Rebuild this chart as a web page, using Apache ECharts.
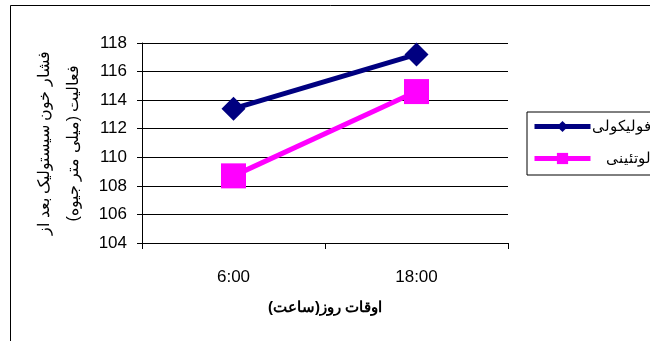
<!DOCTYPE html>
<html>
<head>
<meta charset="utf-8">
<script src="https://cdn.jsdelivr.net/npm/echarts@6/dist/echarts.min.js"></script>
<style>
  html, body { margin: 0; padding: 0; background: #fff; }
  #chart { width: 650px; height: 341px; }
</style>
</head>
<body>
<div id="chart"></div>
<script>
// Time-of-day categories and systolic pressure per menstrual phase
const categories = ['6:00', '18:00'];
const follicular = [113.4, 117.2];
const luteal = [108.7, 114.6];
const seriesNames = ['فاز فولیکولی', 'فاز لوتئینی'];
const yTitle = 'فشار خون سیستولیک بعد از\nفعالیت (میلی متر جیوه)';
const xTitle = 'اوقات روز(ساعت)';

const chart = echarts.init(document.getElementById('chart'), null, { renderer: 'canvas' });
const font = 'Liberation Sans, Arial, sans-serif';

chart.setOption({
  animation: false,
  backgroundColor: '#fff',
  textStyle: { fontFamily: font, color: '#000' },
  graphic: [{
    type: 'rect',
    shape: { x: 10.5, y: 5.5, width: 700, height: 400 },
    style: { fill: 'none', stroke: '#000', lineWidth: 1 },
    silent: true,
    z: -1
  }],
  grid: { left: 142, right: 142, top: 43, bottom: 98 },
  legend: {
    orient: 'vertical',
    left: 527,
    top: 112,
    padding: [7, 10, 9, 5],
    itemGap: 17,
    itemWidth: 56,
    itemHeight: 14,
    borderColor: '#000',
    borderWidth: 1,
    lineStyle: { width: 5 },
    formatter: function (name) { return '{t|' + name + '}'; },
    textStyle: {
      fontSize: 15, color: '#000', fontFamily: font,
      rich: { t: { width: 79, align: 'right', fontSize: 15, fontFamily: font } }
    },
    data: seriesNames
  },
  xAxis: {
    type: 'category',
    data: categories,
    boundaryGap: true,
    axisLine: { lineStyle: { color: '#000', width: 1 } },
    axisTick: { show: true, length: 6, lineStyle: { color: '#000' } },
    axisLabel: { fontSize: 17, color: '#000', margin: 26, fontFamily: font },
    name: xTitle,
    nameLocation: 'middle',
    nameGap: 57,
    nameTextStyle: { fontSize: 15, fontWeight: 'bold', color: '#000', fontFamily: font }
  },
  yAxis: {
    type: 'value',
    min: 104,
    max: 118,
    interval: 2,
    axisLine: { show: true, lineStyle: { color: '#000', width: 1 } },
    axisTick: { show: true, length: 5, lineStyle: { color: '#000' } },
    axisLabel: { fontSize: 17, color: '#000', margin: 15, fontFamily: font },
    splitLine: { show: true, lineStyle: { color: '#000', width: 1 } },
    name: yTitle,
    nameLocation: 'middle',
    nameRotate: 90,
    nameGap: 52,
    nameTextStyle: { fontSize: 16, lineHeight: 29, color: '#000', fontFamily: font, align: 'center' }
  },
  series: [
    {
      name: seriesNames[0],
      type: 'line',
      data: follicular,
      symbol: 'diamond',
      symbolSize: 24,
      lineStyle: { color: '#000080', width: 5 },
      itemStyle: { color: '#000080' }
    },
    {
      name: seriesNames[1],
      type: 'line',
      data: luteal,
      symbol: 'rect',
      symbolSize: 25,
      lineStyle: { color: '#FF00FF', width: 5 },
      itemStyle: { color: '#FF00FF' }
    }
  ]
});
</script>
</body>
</html>
